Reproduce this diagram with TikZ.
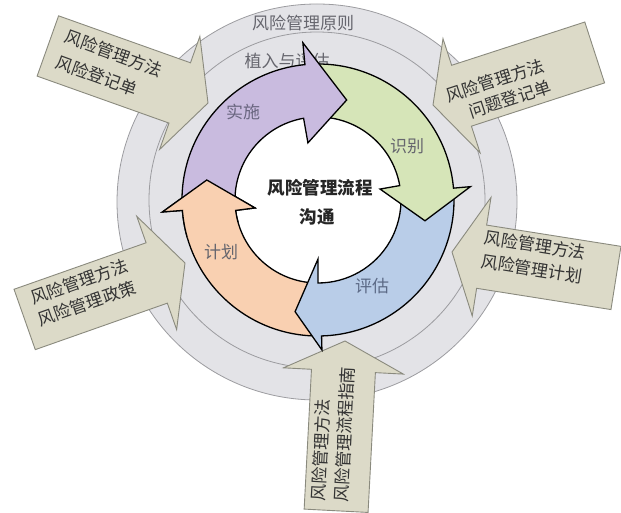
\documentclass[tikz,border=0pt]{standalone}
\usepackage{fontspec}
\newfontfamily\cjk{Noto Sans CJK SC}
\usetikzlibrary{calc}
\definecolor{ringfill}{HTML}{E3E3E7}
\definecolor{ringline}{HTML}{9C9CA0}
\definecolor{calfill}{HTML}{DCDAC8}
\definecolor{calline}{HTML}{8A8A7E}
\definecolor{cpurple}{HTML}{C9BBDF}
\definecolor{cgreen}{HTML}{D6E5B8}
\definecolor{cblue}{HTML}{B9CDE8}
\definecolor{corange}{HTML}{F9D0B1}
\definecolor{lblgray}{HTML}{66666E}
\definecolor{lblpurple}{HTML}{6A6680}
\definecolor{lblblue}{HTML}{5C6A86}
\tikzset{
  ring/.style={fill=ringfill, draw=ringline, line width=0.8pt},
  callout/.style={fill=calfill, draw=calline, line width=0.9pt, line join=miter},
  cyc/.style={draw=black, line width=1.3pt, line join=miter},
  caltext/.style={text=black!80, inner sep=0pt},
  lbl/.style={font=\cjk\fontsize{17}{20}\selectfont, inner sep=0pt},
  ctr/.style={font=\cjk\bfseries\fontsize{17.5}{20}\selectfont, text=black!85, inner sep=0pt}
}
\newcommand{\calloutshape}[3]{%
  \begin{scope}[shift={#1}, rotate=#2]
    \path[callout] (0,0) -- (-30,60) -- (-30,32) -- (-#3,32) -- (-#3,-32) -- (-30,-32) -- (-30,-60) -- cycle;
  \end{scope}}
% #2 tail angle, #3 outer barb angle, #4 outer barb radius,
% #5 tip angle, #6 tip radius, #7 inner barb angle, #8 inner barb radius
\newcommand{\cycpath}[8]{%
  (#2:136) arc[start angle=#2, end angle=#3, radius=136] -- (#3:#4) -- (#5:#6) -- (#7:#8) -- (#7:83)
  arc[start angle=#7, end angle=#2, radius=83] -- cycle}
\begin{document}
\begin{tikzpicture}[x=1pt,y=1pt]
\useasboundingbox (0,0) rectangle (621,512);
\fill[white] (0,0) rectangle (621,512);
% rings
\draw[ring] (317,310) ellipse[x radius=200, y radius=198];
\draw[ring] (317,312) circle[radius=168];
\node[lbl, text=lblgray] (principle) at (303,489) {风险管理原则};
\node[lbl, text=lblgray] (embed) at (287,451) {植入与评估};
% callouts
\calloutshape{(208,409)}{-19.6}{170}
\calloutshape{(433,407)}{198}{170}
\calloutshape{(452,260)}{171}{166}
\calloutshape{(185,249)}{19.4}{170}
\calloutshape{(345,171)}{87}{170}
\node[caltext, rotate=-20, align=left, font=\cjk\fontsize{17}{27}\selectfont] (tl) at (109.5,446) {风险管理方法\\风险登记单};
\node[caltext, rotate=18, align=right, font=\cjk\fontsize{17}{22}\selectfont] (tr) at (498.5,421) {风险管理方法\\问题登记单};
\node[caltext, rotate=-9, align=center, font=\cjk\fontsize{17}{24}\selectfont] (rt) at (533.5,255) {风险管理方法\\风险管理计划};
\node[caltext, rotate=19.4, align=center, font=\cjk\fontsize{17}{23}\selectfont] (lt) at (83,219.5) {风险管理方法\\风险管理政策};
\node[caltext, rotate=87, align=left, font=\cjk\fontsize{17}{23}\selectfont] (bt) at (333,78) {风险管理方法\\风险管理流程指南};
% inner white
\fill[white] (318,312) circle[radius=83];
% cycle arrows
\begin{scope}[shift={(318,312)}]
  \path[cyc, fill=corange] \cycpath{corange}{268.5}{184.4}{156}{169.8}{113}{187.2}{63.5};
  \path[cyc, fill=cblue] \cycpath{cblue}{3}{-88.5}{150}{-101.6}{114}{-90}{59};
  \path[cyc, fill=cgreen] \cycpath{cgreen}{94}{5}{153}{-11}{109}{10}{63};
  \path[cyc, fill=cpurple] \cycpath{cpurple}{182}{95.5}{158}{74}{104}{100}{58};
  \begin{scope}
    \clip (0,0) -- (196:220) arc[start angle=196, end angle=160, radius=220] -- cycle;
    \path[cyc, fill=corange] \cycpath{corange}{268.5}{184.4}{156}{169.8}{113}{187.2}{63.5};
  \end{scope}
\end{scope}
\node[lbl, text=lblpurple] (impl) at (243,400) {实施};
\node[lbl, text=lblgray] (ident) at (407,366) {识别};
\node[lbl, text=lblgray] (plan) at (221,260) {计划};
\node[lbl, text=lblblue] (assess) at (372,226) {评估};
\node[ctr] (c1) at (320,324) {风险管理流程};
\node[ctr] (c2) at (317,295) {沟通};
\end{tikzpicture}
\end{document}
